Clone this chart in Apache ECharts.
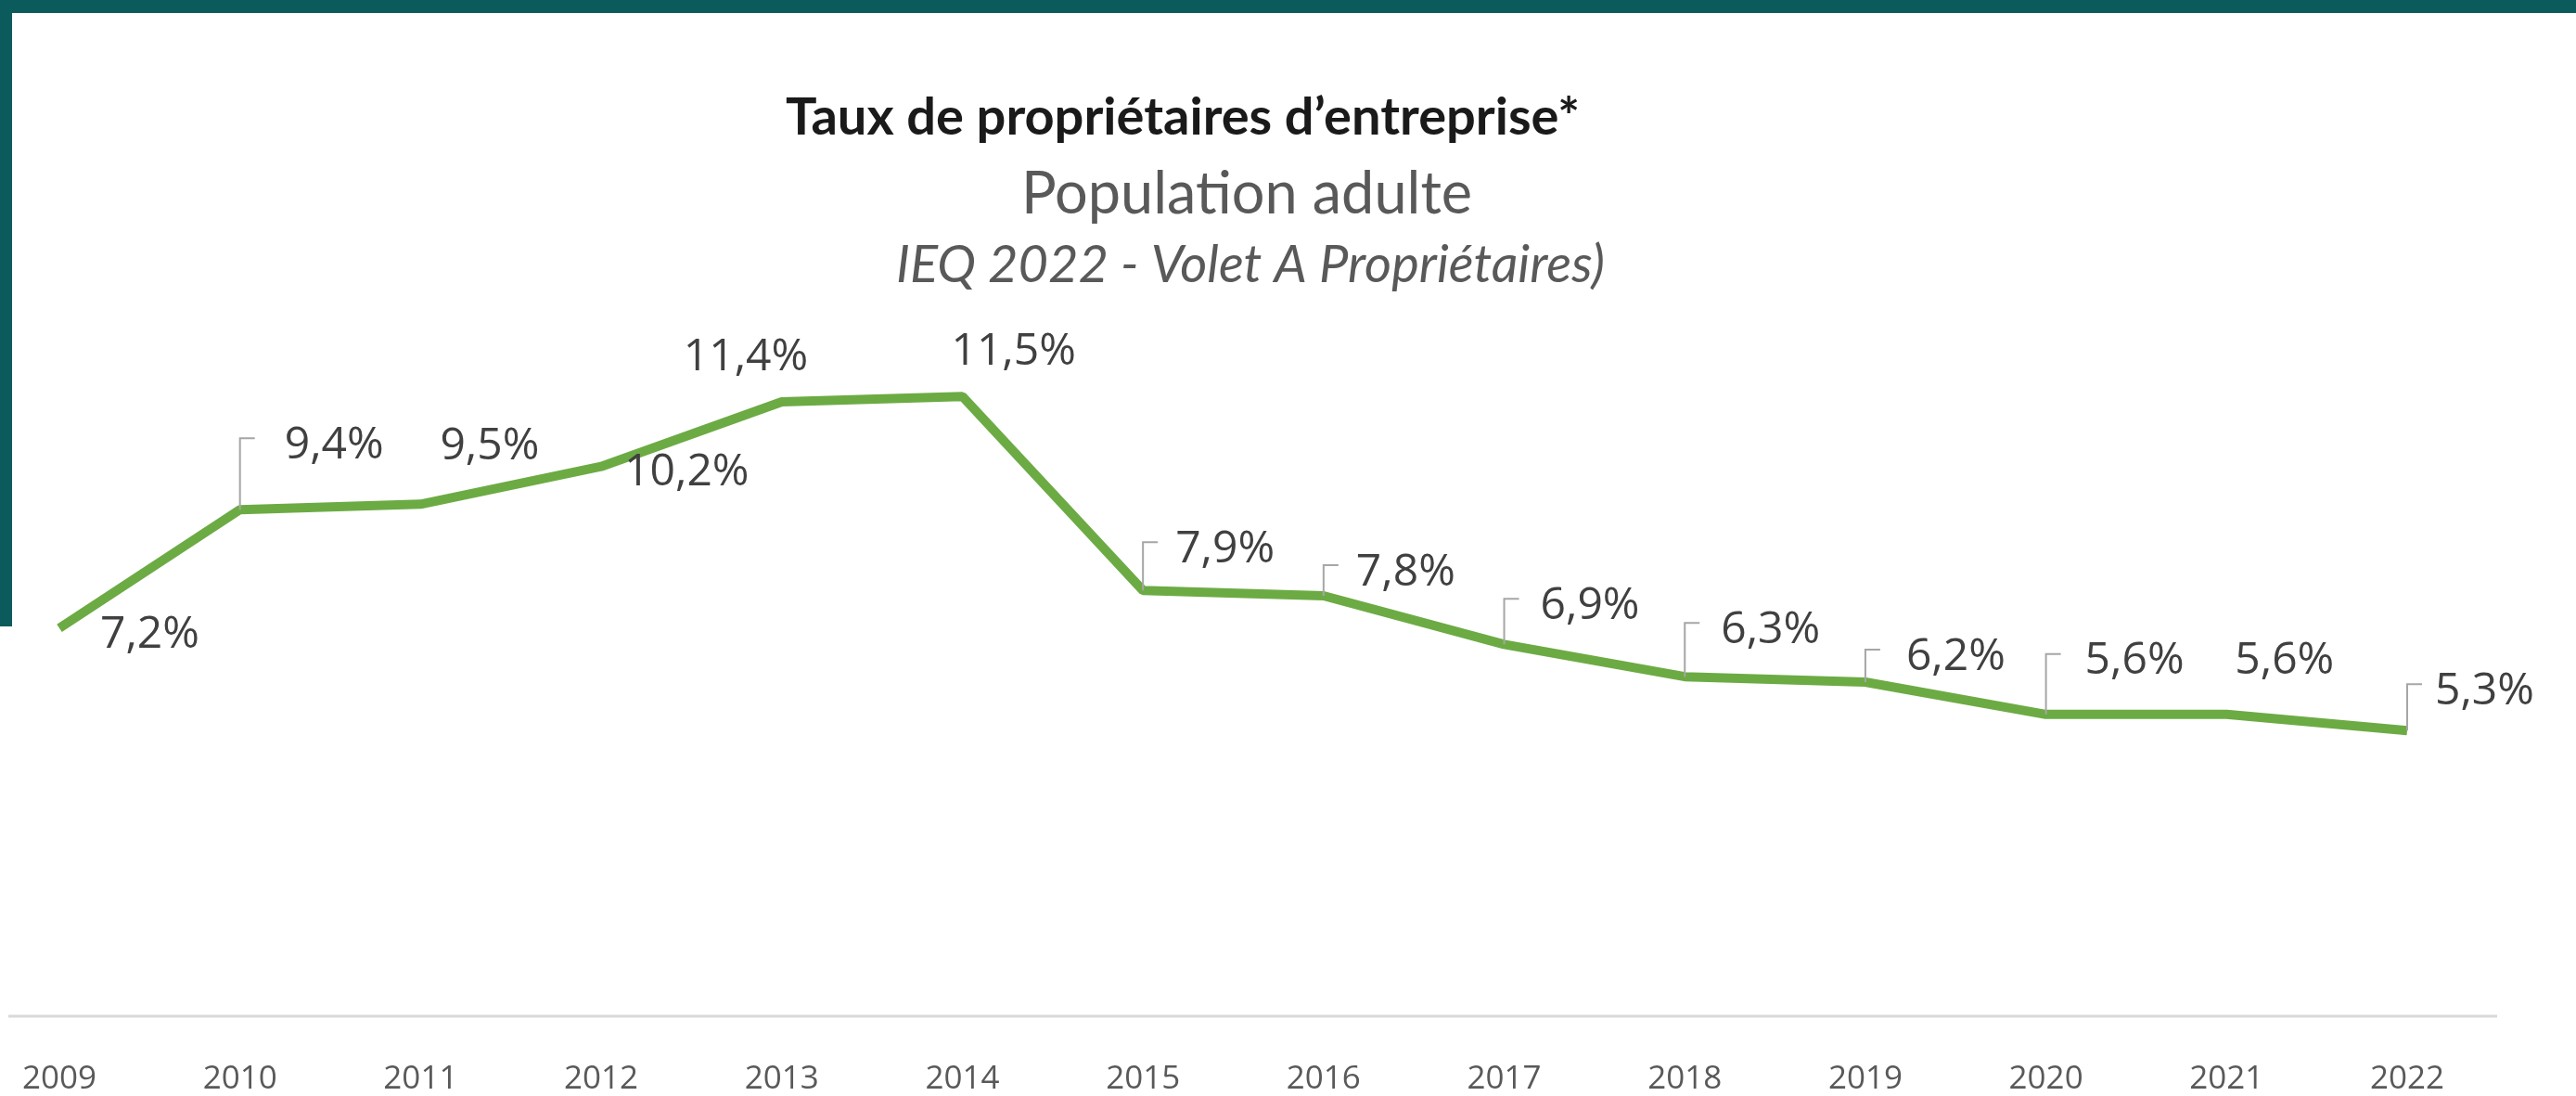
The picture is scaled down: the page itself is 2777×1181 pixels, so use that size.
<!DOCTYPE html>
<html lang="fr">
<head>
<meta charset="utf-8">
<title>Taux de propriétaires d'entreprise</title>
<script src="https://cdn.jsdelivr.net/npm/echarts@6/dist/echarts.min.js"></script>
<style>
    html, body { margin: 0; padding: 0; background: #ffffff; }
    #chart { width: 2777px; height: 1181px; }
</style>
</head>
<body>
<div id="chart"></div>
<script>
// 数据
const years = ['2009', '2010', '2011', '2012', '2013', '2014', '2015',
               '2016', '2017', '2018', '2019', '2020', '2021', '2022'];
const rates = [7.2, 9.4, 9.5, 10.2, 11.4, 11.5, 7.9, 7.8, 6.9, 6.3, 6.2, 5.6, 5.6, 5.3];

// 标签相对数据点的偏移 [dx, dy, 是否有引导线]
const labelOffsets = [
    [44, 7, false], [48, -69, true], [21, -62, false], [25, 7, false],
    [-106, -48, false], [-12, -48, false], [35, -44, true], [35, -25, true],
    [39, -41, true], [39, -50, true], [44, -27, true], [42, -57, true],
    [9, -57, false], [30, -42, true]
];

const fmt = v => v.toFixed(1).replace('.', ',') + '%';

document.addEventListener('DOMContentLoaded', () => {
    const chart = echarts.init(document.getElementById('chart'));

    // 数据标签 + Excel 风格引导线
    const renderLabel = (params, api) => {
        const i = params.dataIndex;
        const pt = api.coord([api.value(0), api.value(1)]);
        const off = labelOffsets[i];
        const lx = pt[0] + off[0];
        const ly = pt[1] + off[1];
        const children = [{
            type: 'text',
            x: lx,
            y: ly,
            style: {
                text: fmt(api.value(1)),
                fill: '#404040',
                font: '48px "Open Sans", sans-serif',
                textAlign: 'left',
                textVerticalAlign: 'middle'
            }
        }];
        if (off[2]) {
            children.unshift({
                type: 'polyline',
                shape: { points: [[pt[0], pt[1]], [pt[0], ly - 8], [pt[0] + 16, ly - 8]] },
                style: { stroke: '#a6a6a6', lineWidth: 2, fill: null }
            });
        }
        return { type: 'group', children };
    };

    const option = {
        backgroundColor: '#ffffff',
        animation: false,
        title: [
            {
                text: 'Taux de propriétaires d’entreprise*',
                left: 1275, top: 99, textAlign: 'center', padding: 0,
                textStyle: { fontFamily: 'Lato', fontWeight: 'bold', fontSize: 56, color: '#1a1a1a' }
            },
            {
                text: 'Population adulte',
                left: 1344, top: 178, textAlign: 'center', padding: 0,
                textStyle: { fontFamily: 'Lato', fontWeight: 'normal', fontSize: 63, color: '#595959' }
            },
            {
                text: 'IEQ 2022 - Volet A Propriétaires)',
                left: 1348, top: 258, textAlign: 'center', padding: 0,
                textStyle: { fontFamily: 'Lato', fontStyle: 'italic', fontWeight: 'normal', fontSize: 56, color: '#595959' }
            }
        ],
        grid: { left: 64, right: 182, top: 282, bottom: 86 },
        xAxis: {
            type: 'category',
            data: years,
            boundaryGap: false,
            axisLine: { show: false },
            axisTick: { show: false },
            axisLabel: {
                margin: 51,
                fontFamily: 'Open Sans',
                fontSize: 35,
                color: '#595959'
            }
        },
        yAxis: {
            type: 'value',
            min: 0,
            max: 14,
            show: false
        },
        graphic: [
            // 外框
            { type: 'rect', shape: { x: 0, y: 0, width: 2777, height: 14 }, style: { fill: '#0b5a5c' } },
            { type: 'rect', shape: { x: 0, y: 0, width: 13, height: 675 }, style: { fill: '#0b5a5c' } },
            // 基线
            { type: 'line', shape: { x1: 9, y1: 1095, x2: 2692, y2: 1095 }, style: { stroke: '#d9d9d9', lineWidth: 3 } }
        ],
        series: [
            {
                type: 'line',
                data: rates,
                symbol: 'none',
                lineStyle: { color: '#6cab44', width: 10 },
                z: 2
            },
            {
                type: 'custom',
                data: rates.map((v, i) => [i, v]),
                renderItem: renderLabel,
                z: 3
            }
        ]
    };

    chart.setOption(option);
});
</script>
</body>
</html>
